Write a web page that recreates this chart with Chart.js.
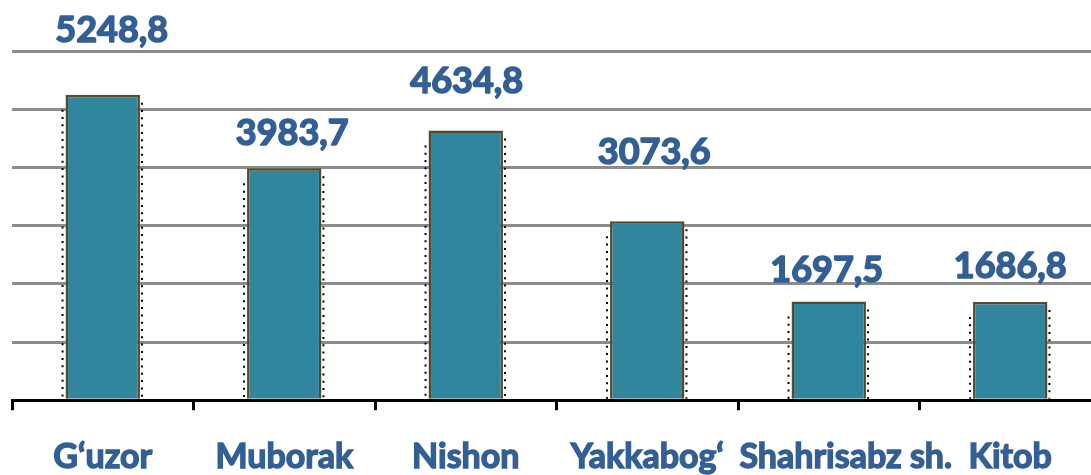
<!DOCTYPE html>
<html>
<head>
<meta charset="utf-8">
<script src="https://cdn.jsdelivr.net/npm/chart.js@4"></script>
<style>
  html, body { margin:0; padding:0; background:#fff; overflow:hidden; }
  .wrap { width:1101px; height:503px; position:relative; }
</style>
</head>
<body>
<div class="wrap"><canvas id="c"></canvas></div>
<script>
const districts = ['G‘uzor', 'Muborak', 'Nishon', 'Yakkabog‘', 'Shahrisabz sh.', 'Kitob'];
const values = [5248.8, 3983.7, 4634.8, 3073.6, 1697.5, 1686.8];
const yTicks = [0, 1000, 2000, 3000, 4000, 5000, 6000];

// value labels sit at uneven heights in the original
const labelLift = [64, 35, 49, 69, 31, 36];
const labelShift = [9, 8, 1, 7, -2, 0];

const FONT = "'Lato', sans-serif";
const BLUE = '#335f95';

const valueLabels = {
  id: 'valueLabels',
  afterDatasetsDraw(chart) {
    const ctx = chart.ctx;
    const meta = chart.getDatasetMeta(0);
    ctx.save();
    meta.data.forEach((bar, i) => {
      const half = bar.width / 2;
      // dotted side lines
      ctx.strokeStyle = '#000';
      ctx.lineWidth = 2;
      ctx.setLineDash([2, 5.3]);
      ctx.beginPath();
      ctx.moveTo(bar.x - half - 3, bar.y + 15);
      ctx.lineTo(bar.x - half - 3, bar.base);
      ctx.moveTo(bar.x + half + 2, bar.y + 8);
      ctx.lineTo(bar.x + half + 2, bar.base);
      ctx.stroke();
      ctx.setLineDash([]);
      // value text
      const txt = values[i].toFixed(1).replace('.', ',');
      ctx.fillStyle = BLUE;
      ctx.strokeStyle = BLUE;
      ctx.lineWidth = 1.6;
      ctx.lineJoin = 'round';
      ctx.font = 'bold 36px ' + FONT;
      ctx.textAlign = 'center';
      ctx.textBaseline = 'middle';
      ctx.fillText(txt, bar.x + labelShift[i], bar.y - labelLift[i]);
      ctx.strokeText(txt, bar.x + labelShift[i], bar.y - labelLift[i]);
    });
    ctx.restore();
  }
};

new Chart(document.getElementById('c'), {
  type: 'bar',
  data: {
    labels: districts,
    datasets: [{
      data: values,
      backgroundColor: '#31869e',
      borderColor: '#544a2e',
      borderWidth: 2.5,
      borderSkipped: 'bottom',
      barPercentage: 0.41,
      categoryPercentage: 1
    }]
  },
  options: {
    responsive: true,
    maintainAspectRatio: false,
    animation: false,
    layout: { padding: { left: 12, right: 0, top: 51, bottom: 0 } },
    plugins: { legend: { display: false }, tooltip: { enabled: false } },
    scales: {
      x: {
        grid: { drawOnChartArea: false, drawTicks: true, tickLength: 10, color: '#000', lineWidth: 3 },
        border: { display: true, color: '#000', width: 3 },
        ticks: {
          color: BLUE, font: { family: FONT, size: 34, weight: 'bold' },
          textStrokeColor: BLUE, textStrokeWidth: 1.4,
          padding: 26, maxRotation: 0, autoSkip: false,
          // the long label is nudged right in the original
          callback: (v, i) => (i === 4 ? '\u2002\u2002' : '') + districts[i]
        }
      },
      y: {
        min: 0, max: 6000,
        afterBuildTicks: axis => { axis.ticks = yTicks.map(v => ({ value: v })); },
        grid: { color: '#8c8c8c', lineWidth: 3, drawTicks: false },
        border: { display: false },
        ticks: { display: false }
      }
    }
  },
  plugins: [valueLabels]
});
</script>
</body>
</html>
